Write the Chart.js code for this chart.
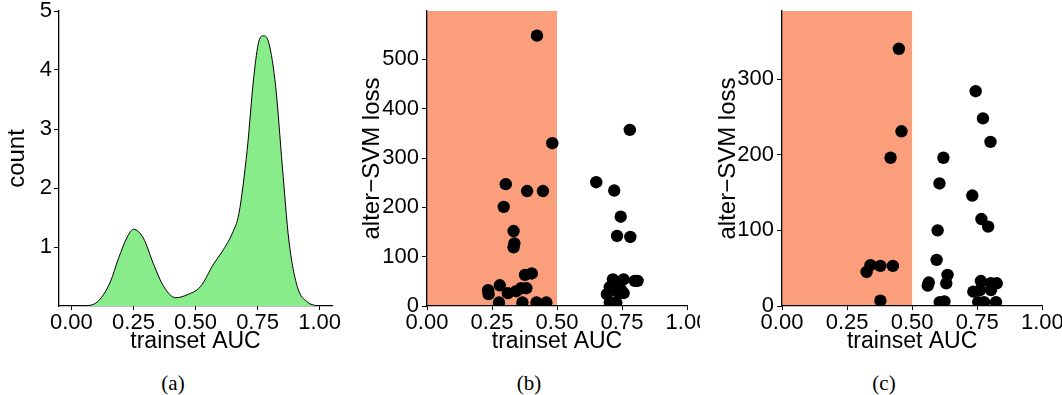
<!DOCTYPE html>
<html><head><meta charset="utf-8">
<script src="https://cdn.jsdelivr.net/npm/chart.js@4.4.1/dist/chart.umd.min.js"></script>
<style>
html,body{margin:0;padding:0;background:#fff;}
body{width:1062px;height:395px;position:relative;overflow:hidden;}
.wrap{position:absolute;top:0;}
.cap{position:absolute;top:371px;width:60px;text-align:center;font-family:"Liberation Serif","Times New Roman",serif;font-size:21px;line-height:24px;color:#000;}
</style></head>
<body>
<div class="wrap" style="left:0px"><canvas id="ca" width="345" height="360"></canvas></div>
<div class="wrap" style="left:345px"><canvas id="cb" width="355" height="360"></canvas></div>
<div class="wrap" style="left:700px"><canvas id="cc" width="362" height="360"></canvas></div>
<div class="cap" style="left:143px">(a)</div>
<div class="cap" style="left:499px">(b)</div>
<div class="cap" style="left:854px">(c)</div>
<script>
// ---- data ----
const xTickValues = [0, 0.25, 0.5, 0.75, 1];
const densityX = [0.00,0.05,0.09,0.12,0.157,0.19,0.225,0.25,0.29,0.33,0.372,0.42,0.466,0.52,0.574,0.607,0.648,0.675,0.708,0.735,0.755,0.774,0.796,0.823,0.85,0.876,0.91,0.95,0.99];
const densityY = [0.00,0.005,0.03,0.14,0.41,0.81,1.17,1.30,1.15,0.72,0.33,0.14,0.19,0.33,0.72,0.92,1.23,1.57,2.64,3.89,4.48,4.58,4.45,3.72,2.36,1.12,0.33,0.07,0.00];
const yTicksA = [1, 2, 3, 4, 5];

const aucB  = [0.303,0.385,0.446,0.295,0.333,0.336,0.333,0.377,0.403,0.235,0.237,0.280,0.311,0.343,0.362,0.382,0.277,0.367,0.421,0.459,0.423,0.482,
               0.651,0.720,0.745,0.731,0.782,0.715,0.756,0.799,0.810,0.703,0.728,0.747,0.692,0.738,0.756,0.703,0.728,0.780];
const lossB = [247,233,233,201,152,127,119,63,66,32,24,42,26,30,36,36,7,7,7,7,548,330,
               251,234,181,142,140,54,54,51,51,38,36,32,24,26,26,7,7,357];
const yTicksB = [0, 100, 200, 300, 400, 500];

const aucC  = [0.744,0.772,0.801,0.459,0.417,0.620,0.605,0.731,0.766,0.792,0.598,0.594,0.325,0.340,0.378,0.426,0.378,0.636,0.631,0.564,0.560,0.606,0.624,
               0.764,0.802,0.825,0.735,0.761,0.803,0.754,0.776,0.822,0.449];
const lossC = [284,248,217,231,196,196,162,146,115,105,100,61,45,54,53,53,7,41,30,31,27,5,6,
               33,30,30,19,21,21,5,5,5,340];
const yTicksC = [0, 100, 200, 300];

const shadedRange = [0, 0.5];

// ---- styling helpers ----
const FAMILY = "'Liberation Sans', Arial, Helvetica, sans-serif";
const TICKFONT = {family: FAMILY, size: 22};
const XTITLEFONT = {family: FAMILY, size: 23};
const YTITLEFONT = {family: FAMILY, size: 24};
const shadePlugin = {
  id: 'shade',
  beforeDraw(chart, args, opts) {
    if (!opts || !opts.range) return;
    const {ctx, chartArea, scales: {x}} = chart;
    const x0 = x.getPixelForValue(opts.range[0]);
    const x1 = x.getPixelForValue(opts.range[1]);
    ctx.save();
    ctx.fillStyle = opts.color;
    ctx.fillRect(x0, chartArea.top, x1 - x0, chartArea.bottom - chartArea.top);
    ctx.restore();
  }
};

function xScale(min, max) {
  return {
    type: 'linear', min: min, max: max,
    afterBuildTicks: s => { s.ticks = xTickValues.map(v => ({value: v})); },
    afterFit: s => { s.height = 54; s.paddingLeft = 0; s.paddingRight = 0; },
    border: {display: true, color: '#000', width: 1.3},
    grid: {display: true, drawOnChartArea: false, drawTicks: true, tickLength: 4, color: '#000', tickWidth: 1},
    ticks: {autoSkip: false, maxRotation: 0, padding: 0, color: '#000', font: TICKFONT, callback: v => Number(v).toFixed(2)},
    title: {display: true, text: 'trainset AUC', color: '#000', font: XTITLEFONT, padding: {top: 0, bottom: 5}}
  };
}
function yScale(max, ticks, width, title, titlePad, tickLen, tickPad) {
  return {
    type: 'linear', min: 0, max: max,
    afterBuildTicks: s => { s.ticks = ticks.map(v => ({value: v})); },
    afterFit: s => { s.width = width; s.paddingTop = 0; s.paddingBottom = 0; },
    border: {display: true, color: '#000', width: 1.3},
    grid: {display: true, drawOnChartArea: false, drawTicks: true, tickLength: tickLen, color: '#000'},
    ticks: {autoSkip: false, padding: tickPad, color: '#000', font: TICKFONT},
    title: {display: true, text: title, color: '#000', font: YTITLEFONT, padding: {top: titlePad, bottom: 0}}
  };
}
const common = {
  responsive: false, animation: false, devicePixelRatio: 1,
  plugins: {legend: {display: false}, tooltip: {enabled: false}},
};

// (a) density
new Chart(document.getElementById('ca'), {
  type: 'line',
  data: {datasets: [{
    data: densityX.map((x, i) => ({x: x, y: densityY[i]})),
    borderColor: '#000', borderWidth: 1, backgroundColor: '#88EC8A',
    fill: 'origin', pointRadius: 0, cubicInterpolationMode: 'monotone'
  }]},
  options: Object.assign({}, common, {
    layout: {autoPadding: false, padding: {top: 11, right: 13, bottom: 0, left: 0}},
    scales: {x: xScale(-0.05, 1.05), y: yScale(5, yTicksA, 59, 'count', 2.5, 5, 2)}
  })
});

function scatterChart(id, xs, ys, ymax, yticks, padRight, titlePad) {
  return new Chart(document.getElementById(id), {
    type: 'scatter',
    data: {datasets: [{
      data: xs.map((x, i) => ({x: x, y: ys[i]})),
      backgroundColor: '#000', borderWidth: 0, pointRadius: 6.2, clip: 0
    }]},
    options: Object.assign({}, common, {
      layout: {autoPadding: false, padding: {top: 11, right: padRight, bottom: 0, left: 0}},
      plugins: {legend: {display: false}, tooltip: {enabled: false}, shade: {range: shadedRange, color: '#FA9E7B'}},
      scales: {x: xScale(0, 1), y: yScale(ymax, yticks, 82, 'alter\u2212SVM loss', titlePad, 5, 3)}
    }),
    plugins: [shadePlugin]
  });
}
scatterChart('cb', aucB, lossB, 598, yTicksB, 13, 12.5);
scatterChart('cc', aucC, lossC, 390, yTicksC, 19.7, 13.5);
</script>
</body></html>
